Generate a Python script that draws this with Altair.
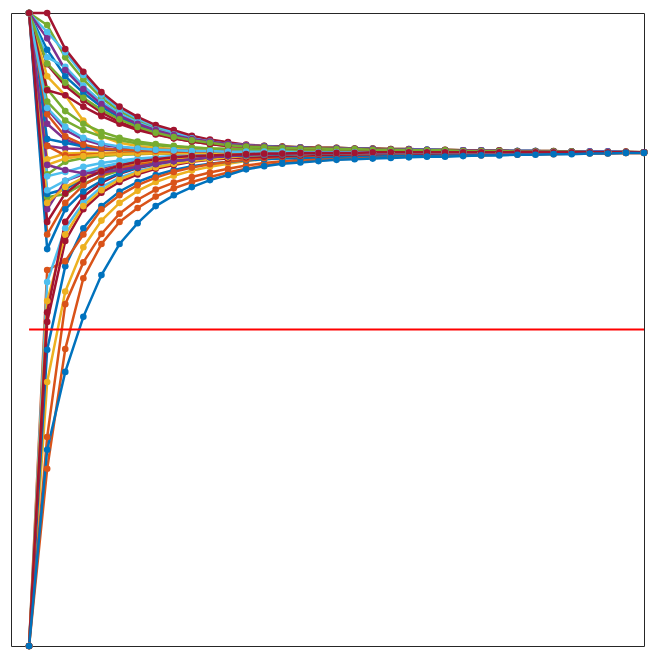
import altair as alt
import pandas as pd

palette = ["#0072BD", "#D95319", "#EDB120", "#7E2F8E", "#77AC30", "#4DBEEE", "#A2142F"]
steps = list(range(1, 36))

ref_x = [1, 35]
ref_y = [0.5, 0.5]

s00 = [0, .31, .433, .52, .586, .635, .668, .695, .712, .725, .736, .744, .753, .758, .762, .764, .766, .768, .769, .77, .771, .772, .773, .773, .774, .775, .775, .776, .776, .777, .777, .778, .778, .779, .779]
s01 = [0, .28, .469, .581, .635, .67, .692, .71, .723, .733, .741, .748, .754, .759, .763, .765, .767, .769, .77, .771, .772, .773, .774, .774, .775, .775, .776, .776, .777, .777, .778, .778, .778, .779, .779]
s02 = [0, .417, .56, .63, .672, .7, .719, .733, .743, .751, .757, .762, .766, .769, .771, .773, .774, .775, .776, .777, .777, .778, .778, .779, .779, .779, .779, .78, .78, .78, .78, .78, .78, .78, .78]
s03 = [1, .79, .786, .785, .784, .783, .782, .782, .781, .781, .781, .78, .78, .78, .78, .78, .78, .78, .78, .78, .78, .78, .78, .78, .78, .78, .78, .78, .78, .78, .78, .78, .78, .78, .78]
s04 = [1, .981, .93, .895, .866, .845, .83, .818, .81, .803, .798, .794, .791, .79, .789, .788, .787, .787, .786, .786, .785, .785, .784, .784, .783, .783, .783, .782, .782, .782, .781, .781, .781, .781, .78]
s05 = [1, .97, .938, .902, .871, .849, .833, .821, .812, .805, .799, .795, .791, .789, .788, .787, .786, .786, .785, .785, .784, .784, .784, .783, .783, .783, .782, .782, .782, .781, .781, .781, .781, .78, .78]
s06 = [1, 1, .943, .907, .875, .852, .836, .823, .815, .806, .8, .796, .792, .79, .789, .788, .787, .787, .786, .786, .785, .785, .784, .784, .783, .783, .783, .782, .782, .782, .781, .781, .781, .781, .78]
s07 = [1, .942, .9, .874, .852, .835, .823, .814, .806, .8, .796, .792, .79, .789, .788, .787, .786, .786, .785, .785, .784, .784, .784, .783, .783, .783, .782, .782, .782, .781, .781, .781, .781, .78, .78]
s08 = [0, .33, .54, .606, .651, .683, .705, .721, .732, .741, .748, .754, .759, .763, .766, .768, .77, .771, .772, .773, .774, .775, .775, .776, .776, .777, .777, .778, .778, .778, .779, .779, .779, .779, .779]
s09 = [1, .769, .778, .779, .779, .78, .78, .78, .78, .78, .78, .78, .78, .78, .78, .78, .78, .78, .78, .78, .78, .78, .78, .78, .78, .78, .78, .78, .78, .78, .78, .78, .78, .78, .78]
s10 = [1, .825, .8, .79, .786, .784, .783, .782, .781, .781, .781, .78, .78, .78, .78, .78, .78, .78, .78, .78, .78, .78, .78, .78, .78, .78, .78, .78, .78, .78, .78, .78, .78, .78, .78]
s11 = [1, .745, .765, .771, .774, .776, .777, .778, .778, .779, .779, .779, .779, .78, .78, .78, .78, .78, .78, .78, .78, .78, .78, .78, .78, .78, .78, .78, .78, .78, .78, .78, .78, .78, .78]
s12 = [1, .742, .749, .757, .763, .767, .77, .772, .774, .775, .776, .777, .777, .778, .778, .779, .779, .779, .779, .78, .78, .78, .78, .78, .78, .78, .78, .78, .78, .78, .78, .78, .78, .78, .78]
s13 = [1, .919, .885, .862, .843, .828, .817, .809, .802, .797, .793, .79, .789, .788, .787, .786, .786, .785, .785, .784, .784, .783, .783, .783, .782, .782, .782, .781, .781, .781, .781, .78, .78, .78, .78]
s14 = [0, .468, .6, .66, .695, .718, .733, .744, .752, .758, .762, .765, .767, .769, .77, .771, .772, .773, .774, .775, .775, .776, .776, .777, .777, .778, .778, .778, .779, .779, .779, .779, .78, .78, .78]
s15 = [0, .594, .608, .65, .69, .712, .728, .74, .749, .756, .761, .765, .768, .771, .773, .774, .775, .776, .777, .777, .778, .778, .779, .779, .779, .779, .78, .78, .78, .78, .78, .78, .78, .78, .78]
s16 = [1, .9, .87, .83, .805, .795, .79, .787, .785, .784, .783, .782, .782, .781, .781, .781, .78, .78, .78, .78, .78, .78, .78, .78, .78, .78, .78, .78, .78, .78, .78, .78, .78, .78, .78]
s17 = [1, .848, .815, .8, .792, .788, .786, .784, .783, .782, .782, .781, .781, .781, .781, .78, .78, .78, .78, .78, .78, .78, .78, .78, .78, .78, .78, .78, .78, .78, .78, .78, .78, .78, .78]
s18 = [1, .709, .714, .73, .742, .751, .758, .763, .767, .77, .772, .774, .775, .776, .777, .777, .778, .778, .779, .779, .779, .779, .78, .78, .78, .78, .78, .78, .78, .78, .78, .78, .78, .78, .78]
s19 = [0, .575, .66, .7, .725, .74, .75, .757, .762, .766, .769, .772, .774, .775, .776, .777, .777, .778, .778, .779, .779, .779, .779, .78, .78, .78, .78, .78, .78, .78, .78, .78, .78, .78, .78]
s20 = [0, .512, .64, .69, .716, .733, .745, .754, .76, .765, .768, .77, .772, .773, .774, .775, .776, .776, .777, .777, .778, .778, .778, .779, .779, .779, .779, .78, .78, .78, .78, .78, .78, .78, .78]
s21 = [1, .714, .722, .738, .749, .757, .763, .767, .77, .772, .774, .775, .776, .777, .777, .778, .778, .779, .779, .779, .779, .78, .78, .78, .78, .78, .78, .78, .78, .78, .78, .78, .78, .78, .78]
s22 = [1, .79, .775, .776, .777, .778, .778, .779, .779, .779, .78, .78, .78, .78, .78, .78, .78, .78, .78, .78, .78, .78, .78, .78, .78, .78, .78, .78, .78, .78, .78, .78, .78, .78, .78]
s23 = [0, .545, .65, .695, .72, .737, .748, .756, .762, .766, .769, .772, .774, .776, .777, .777, .778, .778, .779, .779, .779, .779, .78, .78, .78, .78, .78, .78, .78, .78, .78, .78, .78, .78, .78]
s24 = [1, .69, .735, .745, .754, .76, .765, .768, .771, .773, .774, .775, .776, .777, .777, .778, .778, .779, .779, .779, .779, .78, .78, .78, .78, .78, .78, .78, .78, .78, .78, .78, .78, .78, .78]
s25 = [1, .86, .83, .815, .805, .799, .794, .791, .789, .787, .786, .785, .785, .784, .784, .784, .783, .783, .783, .782, .782, .782, .781, .781, .781, .781, .781, .78, .78, .78, .78, .78, .78, .78, .78]
s26 = [1, .93, .915, .885, .86, .841, .827, .816, .808, .802, .797, .793, .791, .789, .788, .787, .786, .786, .785, .785, .784, .784, .784, .783, .783, .783, .782, .782, .782, .781, .781, .781, .781, .78, .78]
s27 = [0, .527, .67, .71, .732, .746, .755, .761, .766, .769, .772, .774, .776, .777, .777, .778, .778, .779, .779, .779, .779, .78, .78, .78, .78, .78, .78, .78, .78, .78, .78, .78, .78, .78, .78]
s28 = [1, .801, .795, .789, .786, .784, .783, .782, .781, .781, .78, .78, .78, .78, .78, .78, .78, .78, .78, .78, .78, .78, .78, .78, .78, .78, .78, .78, .78, .78, .78, .78, .78, .78, .78]
s29 = [1, .65, .7, .728, .744, .754, .761, .766, .769, .772, .774, .775, .776, .777, .777, .778, .778, .779, .779, .779, .779, .78, .78, .78, .78, .78, .78, .78, .78, .78, .78, .78, .78, .78, .78]
s30 = [1, .76, .77, .774, .776, .777, .778, .778, .779, .779, .779, .779, .78, .78, .78, .78, .78, .78, .78, .78, .78, .78, .78, .78, .78, .78, .78, .78, .78, .78, .78, .78, .78, .78, .78]
s31 = [1, .96, .91, .88, .856, .838, .825, .815, .807, .801, .797, .793, .791, .789, .788, .787, .786, .786, .785, .785, .784, .784, .784, .783, .783, .783, .782, .782, .782, .781, .781, .781, .781, .78, .78]
s32 = [1, .88, .845, .825, .812, .803, .797, .793, .79, .788, .786, .785, .785, .784, .784, .784, .783, .783, .783, .782, .782, .782, .781, .781, .781, .781, .781, .78, .78, .78, .78, .78, .78, .78, .78]
s33 = [1, .72, .735, .748, .757, .763, .767, .77, .772, .774, .775, .776, .777, .778, .778, .779, .779, .779, .779, .78, .78, .78, .78, .78, .78, .78, .78, .78, .78, .78, .78, .78, .78, .78, .78]
s34 = [1, .878, .87, .852, .837, .825, .815, .808, .802, .797, .793, .79, .789, .788, .787, .786, .786, .785, .785, .784, .784, .783, .783, .783, .782, .782, .782, .781, .781, .781, .781, .78, .78, .78, .78]
s35 = [1, .627, .69, .718, .735, .747, .756, .762, .766, .769, .772, .774, .775, .776, .777, .777, .778, .778, .779, .779, .779, .779, .78, .78, .78, .78, .78, .78, .78, .78, .78, .78, .78, .78, .78]
s36 = [1, .84, .805, .792, .786, .784, .783, .782, .781, .781, .781, .781, .78, .78, .78, .78, .78, .78, .78, .78, .78, .78, .78, .78, .78, .78, .78, .78, .78, .78, .78, .78, .78, .78, .78]
s37 = [1, .7, .725, .74, .751, .759, .764, .768, .771, .773, .775, .776, .777, .777, .778, .778, .779, .779, .779, .779, .78, .78, .78, .78, .78, .78, .78, .78, .78, .78, .78, .78, .78, .78, .78]
s38 = [1, .76, .752, .747, .748, .752, .757, .762, .766, .769, .772, .774, .776, .777, .778, .778, .779, .779, .779, .779, .78, .78, .78, .78, .78, .78, .78, .78, .78, .78, .78, .78, .78, .78, .78]
s39 = [1, .92, .89, .866, .847, .832, .82, .811, .804, .799, .795, .791, .789, .788, .787, .786, .786, .785, .785, .784, .784, .783, .783, .783, .782, .782, .782, .781, .781, .781, .781, .78, .78, .78, .78]
s40 = [1, .85, .82, .803, .794, .789, .786, .784, .783, .782, .782, .781, .781, .781, .781, .78, .78, .78, .78, .78, .78, .78, .78, .78, .78, .78, .78, .78, .78, .78, .78, .78, .78, .78, .78]
s41 = [1, .67, .715, .737, .75, .759, .765, .769, .772, .774, .775, .776, .777, .778, .778, .779, .779, .779, .779, .78, .78, .78, .78, .78, .78, .78, .78, .78, .78, .78, .78, .78, .78, .78, .78]

all_series = [s00, s01, s02, s03, s04, s05, s06, s07, s08, s09, s10, s11, s12, s13,
              s14, s15, s16, s17, s18, s19, s20, s21, s22, s23, s24, s25, s26, s27,
              s28, s29, s30, s31, s32, s33, s34, s35, s36, s37, s38, s39, s40, s41]
names = ["s%02d" % i for i in range(len(all_series))]
colors = [palette[i % len(palette)] for i in range(len(all_series))]

draw_order = list(range(1, len(all_series))) + [0]
rows = []
for k in draw_order:
    for xi, v in zip(steps, all_series[k]):
        rows.append({"series": names[k], "x": xi, "y": v})
df = pd.DataFrame(rows)

xscale = alt.Scale(domain=[0, 35], nice=False, zero=False)
yscale = alt.Scale(domain=[0, 1], nice=False, zero=False)

lines = alt.Chart(df).mark_line(
    strokeWidth=2.5,
    point=alt.OverlayMarkDef(filled=True, size=44, opacity=1),
).encode(
    x=alt.X("x:Q", scale=xscale, axis=None),
    y=alt.Y("y:Q", scale=yscale, axis=None),
    color=alt.Color("series:N", scale=alt.Scale(domain=names, range=colors), legend=None),
    detail="series:N",
)

ref = alt.Chart(pd.DataFrame({"x": ref_x, "y": ref_y})).mark_line(
    color="#FF0000", strokeWidth=2
).encode(
    x=alt.X("x:Q", scale=xscale, axis=None),
    y=alt.Y("y:Q", scale=yscale, axis=None),
)

chart = alt.layer(lines, ref).properties(
    width=633, height=633,
    padding={"left": 3, "top": 0, "right": 0, "bottom": 0},
    background="white",
).configure_view(stroke="#262626", strokeWidth=1)

chart.save("out.html", embed_options={"renderer": "svg", "actions": False})
